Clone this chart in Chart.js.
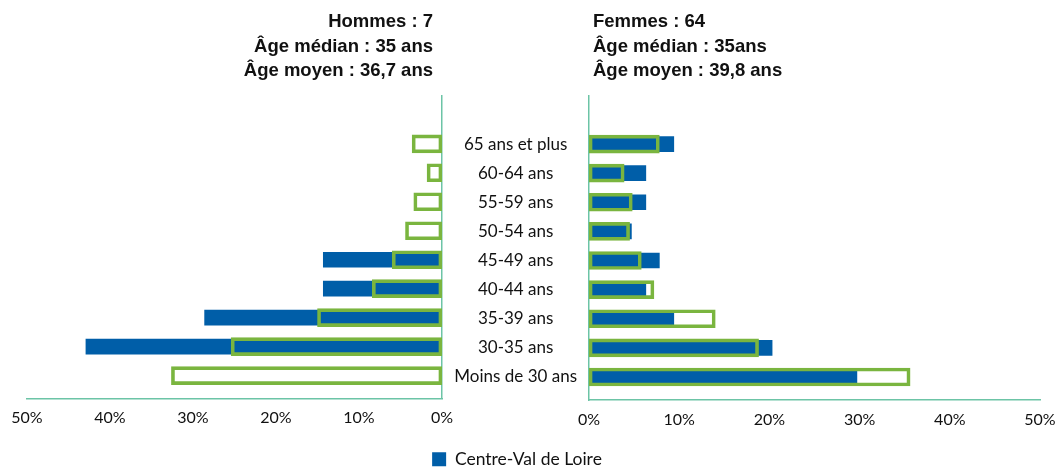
<!DOCTYPE html>
<html>
<head>
<meta charset="utf-8">
<script src="https://cdn.jsdelivr.net/npm/chart.js@4"></script>
<style>
  html, body { margin: 0; padding: 0; background: #fff; overflow: hidden; }
  #wrap { position: relative; width: 1058px; height: 468px; overflow: hidden; }
  #wrap canvas { position: absolute; left: 0; top: 0; }
  .info { position: absolute; top: 9px; font: bold 18.5px 'Liberation Sans', Arial, sans-serif; line-height: 24.5px; color: #111; white-space: nowrap; }
  #infoH { right: 625px; text-align: right; }
  #infoF { left: 593px; text-align: left; }
</style>
</head>
<body>
<div id="wrap">
  <canvas id="femmesChart" width="1058" height="468"></canvas>
  <canvas id="hommesChart" width="1007" height="478"></canvas>
  <div class="info" id="infoH"></div>
  <div class="info" id="infoF"></div>
</div>
<script>
const ageLabels = ['65 ans et plus', '60-64 ans', '55-59 ans', '50-54 ans', '45-49 ans', '40-44 ans', '35-39 ans', '30-35 ans', 'Moins de 30 ans'];

// % des effectifs, Centre-Val de Loire (bleu) et référence (contour vert)
const hommesRegion = [0, 0, 0, 0, 14.3, 14.3, 28.6, 42.9, 0];
const hommesRef = [3.6, 1.8, 3.4, 4.4, 6.0, 8.4, 15.0, 25.4, 32.6];
const femmesRegion = [9.4, 6.3, 6.3, 4.7, 7.8, 6.3, 9.4, 20.3, 29.7];
const femmesRef = [7.8, 3.9, 4.8, 4.5, 5.8, 7.2, 14.0, 18.8, 35.6];

const infoHommes = ['Hommes : 7', 'Âge médian : 35 ans', 'Âge moyen : 36,7 ans'];
const infoFemmes = ['Femmes : 64', 'Âge médian : 35ans', 'Âge moyen : 39,8 ans'];

const xTicks = [0, 10, 20, 30, 40, 50];

document.getElementById('infoH').innerHTML = infoHommes.join('<br>');
document.getElementById('infoF').innerHTML = infoFemmes.join('<br>');

const blue = '#005ea8';
const green = '#7ab53f';
const axisColor = '#6cc4a6';
const tickFont = { family: 'Lato, sans-serif', size: 16 };

function toPoints(values) {
  return values.map((v, i) => ({ x: v, y: i }));
}

function makeDatasets(region, ref) {
  return [
    {
      label: 'Centre-Val de Loire',
      data: toPoints(region),
      backgroundColor: blue,
      borderWidth: 0,
      barThickness: 15,
      grouped: false,
      order: 1
    },
    {
      label: 'Référence',
      data: toPoints(ref),
      backgroundColor: 'rgba(0,0,0,0)',
      borderColor: green,
      borderWidth: 3,
      borderSkipped: false,
      barThickness: 18,
      grouped: false,
      order: 0
    }
  ];
}

function yScale(position, showLabels, width) {
  return {
    type: 'linear',
    position: position,
    min: -1.65,
    max: 8.79,
    reverse: true,
    offset: false,
    afterBuildTicks: s => { s.ticks = ageLabels.map((_, i) => ({ value: i })); },
    afterFit: s => { s.width = width; },
    grid: { display: false, drawTicks: false },
    border: { display: true, color: axisColor, width: 1.5 },
    ticks: {
      display: showLabels,
      crossAlign: 'center',
      padding: 12,
      color: '#111',
      font: { family: 'Lato, sans-serif', size: 17 },
      callback: v => ageLabels[v]
    }
  };
}

function xScale(reverse, height) {
  return {
    type: 'linear',
    min: 0,
    max: 50,
    reverse: reverse,
    afterBuildTicks: s => { s.ticks = xTicks.map(v => ({ value: v })); },
    afterFit: s => {
      s.height = height;
      s.paddingLeft = 0;
      s.paddingRight = 0;
    },
    grid: { display: false, drawTicks: false },
    border: { display: true, color: axisColor, width: 1.5 },
    ticks: {
      padding: 10,
      color: '#111',
      font: tickFont,
      callback: v => v + '%'
    }
  };
}

// Femmes (droite), libellés d'âge au milieu
new Chart(document.getElementById('femmesChart'), {
  type: 'bar',
  data: { datasets: makeDatasets(femmesRegion, femmesRef) },
  options: {
    indexAxis: 'y',
    responsive: false,
    animation: false,
    layout: { padding: { top: 96, bottom: 38, left: 0, right: 18 } },
    plugins: { legend: { display: false }, tooltip: { enabled: false } },
    scales: {
      x: xScale(false, 30),
      y: yScale('left', true, 589)
    }
  }
});

// Hommes (gauche), axe inversé
new Chart(document.getElementById('hommesChart'), {
  type: 'bar',
  data: { datasets: makeDatasets(hommesRegion, hommesRef) },
  options: {
    indexAxis: 'y',
    responsive: false,
    animation: false,
    layout: { padding: { top: 96, bottom: 0, left: 27, right: 0 } },
    plugins: {
      tooltip: { enabled: false },
      legend: {
        position: 'bottom',
        labels: {
          boxWidth: 14,
          boxHeight: 14,
          padding: 6,
          color: '#111',
          font: { family: 'Lato, sans-serif', size: 17.5 },
          filter: item => item.datasetIndex === 0
        }
      }
    },
    scales: {
      x: xScale(true, 46),
      y: yScale('right', false, 565)
    }
  }
});
</script>
</body>
</html>
